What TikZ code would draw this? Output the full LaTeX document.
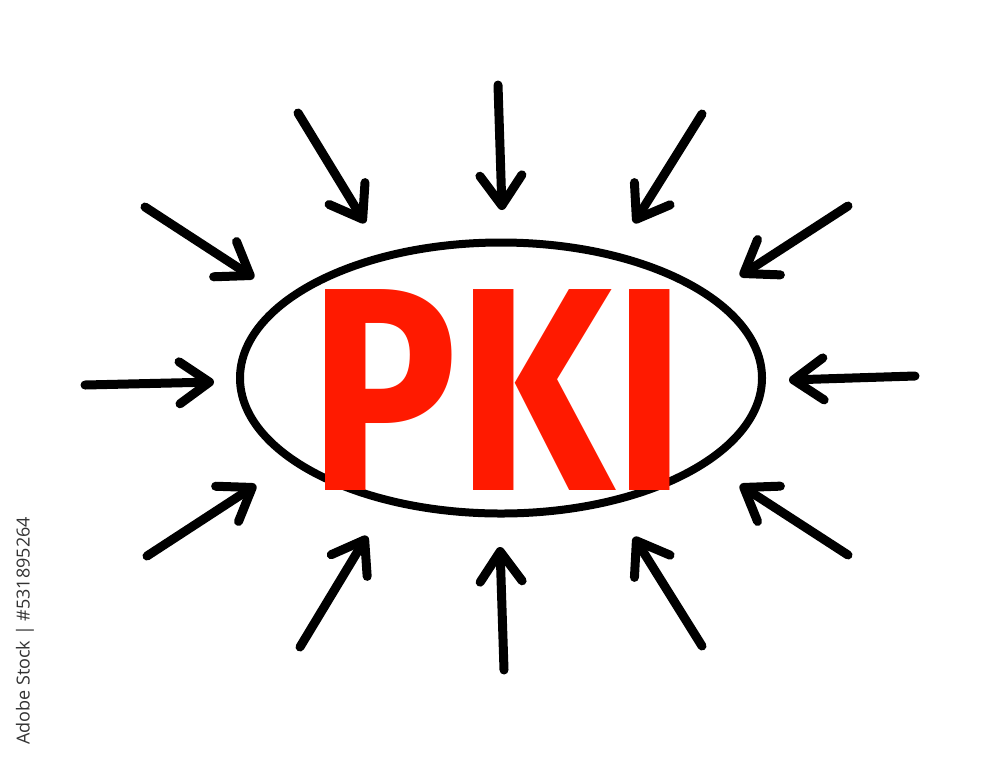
\documentclass[tikz,border=0pt]{standalone}
\usepackage{fontspec}
\newfontfamily\pkifont{Fira Sans}
\newfontfamily\sidefont{Open Sans}
\usetikzlibrary{arrows.meta,shapes.geometric}
\definecolor{pkired}{HTML}{FF1A00}
\definecolor{sidegray}{HTML}{333333}
\tikzset{
  ray/.style={line width=9pt, line cap=round, -{Straight Barb[length=30pt,width=42pt,round]}},
  ring/.style={draw, ellipse, line width=8pt, minimum width=522pt, minimum height=271pt, inner sep=0pt},
  pkitext/.style={text=pkired, font=\pkifont\bfseries\fontsize{290}{290}\selectfont, xscale=0.85, inner sep=0pt},
  sidetext/.style={rotate=90, font=\sidefont\fontsize{18}{18}\selectfont, text=sidegray, inner sep=0pt}
}
\begin{document}
\begin{tikzpicture}[x=1pt,y=-1pt]
\useasboundingbox[fill=white] (0,0) rectangle (1000,756);
\node[ring] (ring) at (501,378) {};
\node[pkitext] (pki) at (498,390) {PKI};
\node[sidetext] (stock) at (25,631) {Adobe Stock | \#531895264};
% tails and heads
\coordinate (t1) at (498,85);   \coordinate (h1) at (502,210);
\coordinate (t2) at (298,113);  \coordinate (h2) at (365,223);
\coordinate (t3) at (702,114);  \coordinate (h3) at (634,223);
\coordinate (t4) at (145,207);  \coordinate (h4) at (254,278);
\coordinate (t5) at (848,206);  \coordinate (h5) at (740,276);
\coordinate (t6) at (85,385);   \coordinate (h6) at (214,382);
\coordinate (t7) at (915,376);  \coordinate (h7) at (789,380);
\coordinate (t8) at (147,556);  \coordinate (h8) at (256,485);
\coordinate (t9) at (848,555);  \coordinate (h9) at (740,485);
\coordinate (t10) at (300,647); \coordinate (h10) at (367,536);
\coordinate (t11) at (504,670); \coordinate (h11) at (500,547);
\coordinate (t12) at (702,646); \coordinate (h12) at (634,537);
\foreach \i in {1,...,12} {
  \draw[ray] (t\i) -- (h\i);
}
\end{tikzpicture}
\end{document}
